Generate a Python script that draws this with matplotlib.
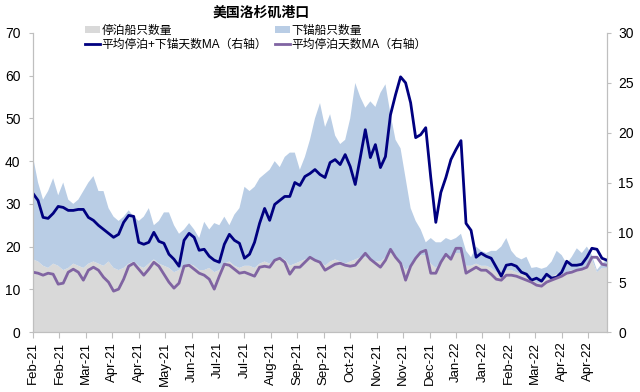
import matplotlib
matplotlib.use("Agg")
import matplotlib.pyplot as plt
import matplotlib.dates as mdates
from matplotlib.patches import Patch
from matplotlib.lines import Line2D
import pandas as pd

plt.rcParams['font.family'] = ['Liberation Sans', 'Noto Sans CJK SC', 'DejaVu Sans']

title = "美国洛杉矶港口"
label_berthed = "停泊船只数量"
label_anchored = "下锚船只数量"
label_total_ma = "平均停泊+下锚天数MA（右轴）"
label_berth_ma = "平均停泊天数MA（右轴）"

start_date = "2021-02-05"
n_points = 115
step_days = 4

# berthed ship count (left axis)
berthed = [17, 16.5, 15.5, 15, 16, 15.5, 14.5, 15, 16, 15.5,
           15, 16, 16.5, 16, 15.5, 16.5, 15, 14.5, 15, 16,
           16.5, 15.5, 15, 16, 17, 16, 15.5, 15, 14, 14.5,
           15.5, 16, 15.5, 14.5, 14.5, 15, 14, 14.5, 16, 16.5,
           15.5, 15, 15.5, 15.5, 15, 16, 16.5, 16, 17, 17.5,
           17, 15.5, 16, 16.5, 17, 17.5, 17, 16.5, 15.5, 16.5,
           17, 16.5, 16, 16.5, 17, 17.5, 17.5, 17, 16.5, 16.5,
           17.5, 18.5, 17.5, 16.5, 14.5, 15.5, 17, 18, 18, 16,
           15, 16.5, 17.5, 17, 18.5, 18.5, 15.5, 15.5, 16, 15.5,
           15.5, 15, 14, 13.5, 14.5, 14.5, 14, 13.5, 13.5, 12.5,
           11.5, 11.5, 12.5, 13, 13.5, 13.5, 14, 14.5, 14.5, 15,
           15.5, 17, 14, 15, 15]

# anchored ship count (left axis, stacked on berthed)
anchored = [24, 18.5, 15.5, 18, 20, 16.5, 20.5, 16, 14, 15.5,
            18, 19, 20, 17, 17.5, 12.5, 12, 11.5, 12, 12.5,
            10.5, 10.5, 12, 13, 8, 10, 12.5, 13, 11, 8.5,
            8.5, 9.5, 8.5, 7.5, 11.3, 9, 11.5, 10.5, 11, 8.5,
            12, 14, 18.5, 17.5, 19, 20, 20.5, 22, 23, 21.1,
            24, 26.5, 26, 21.5, 24, 27.5, 33, 37.1, 32.5, 34.5,
            29, 27.5, 29, 33.5, 41.3, 37.5, 35, 37, 36.2, 39.5,
            40.5, 32.5, 27.5, 26.5, 21.5, 13.5, 9, 6, 3, 6,
            6, 4.5, 4.5, 4.5, 3.5, 4.5, 3.5, 2, 4, 3.5,
            3, 4, 5, 6.5, 7.5, 4.5, 3.6, 3.5, 4.1, 2.5,
            3.7, 3.3, 2.7, 3.5, 5.5, 4.5, 2, 3.1, 5.1, 3.5,
            4.5, 1.0, 0.5, 1, 2]

# average berth + anchor days, moving average (right axis)
total_days_ma = [13.9, 13.2, 11.5, 11.4, 11.9, 12.6, 12.5, 12.2, 12.2, 12.3,
                 12.3, 11.5, 11.2, 10.7, 10.3, 9.9, 9.5, 9.8, 11.0, 11.7,
                 11.6, 9.0, 8.8, 9.0, 10.0, 9.1, 8.9, 7.8, 7.3, 6.6,
                 9.2, 9.9, 9.5, 8.2, 8.3, 7.6, 7.2, 7.0, 8.8, 9.8,
                 9.2, 8.9, 7.4, 7.8, 9.0, 10.9, 12.4, 11.2, 12.8, 13.2,
                 13.6, 13.6, 15.0, 14.7, 15.6, 15.9, 16.3, 15.8, 15.5, 17.0,
                 17.3, 16.8, 17.8, 16.6, 14.8, 17.5, 20.3, 17.5, 18.8, 16.5,
                 17.6, 21.8, 23.8, 25.6, 25.0, 23.0, 19.5, 19.8, 20.5, 15.5,
                 11.0, 14.0, 15.5, 17.3, 18.3, 19.2, 10.9, 10.2, 7.5, 7.9,
                 7.6, 7.4, 6.5, 5.6, 6.7, 6.8, 6.6, 6.0, 5.8, 5.2,
                 5.4, 5.1, 5.8, 5.4, 5.5, 6.0, 7.1, 6.7, 6.7, 6.8,
                 7.5, 8.4, 8.3, 7.4, 7.2]

# average berth days, moving average (right axis)
berth_days_ma = [6.0, 5.9, 5.7, 5.9, 5.8, 4.8, 4.9, 6.0, 6.3, 6.0,
                 5.2, 6.2, 6.5, 6.2, 5.5, 5.0, 4.1, 4.3, 5.3, 6.6,
                 6.9, 6.3, 5.7, 6.3, 7.0, 6.6, 5.8, 5.0, 4.4, 4.9,
                 6.6, 6.7, 6.3, 5.9, 5.7, 5.3, 4.3, 5.6, 6.8, 6.7,
                 6.3, 5.9, 6.0, 5.8, 5.6, 6.5, 6.6, 6.5, 7.2, 7.4,
                 7.0, 5.8, 6.5, 6.5, 7.0, 7.5, 7.2, 7.0, 6.2, 6.5,
                 6.8, 6.9, 6.7, 6.6, 6.7, 7.3, 7.9, 7.3, 6.9, 6.5,
                 7.2, 8.3, 7.5, 6.9, 5.2, 6.6, 7.4, 8.0, 8.2, 5.9,
                 5.9, 7.0, 7.8, 7.3, 8.4, 8.4, 5.9, 6.2, 6.5, 6.2,
                 6.2, 5.8, 5.3, 5.2, 5.7, 5.7, 5.6, 5.4, 5.2, 5.0,
                 4.7, 4.6, 5.0, 5.2, 5.4, 5.6, 5.9, 6.0, 6.2, 6.3,
                 6.5, 7.5, 7.5, 6.8, 6.7]

dates = pd.date_range(start_date, periods=n_points, freq=f"{step_days}D")

fig = plt.figure(figsize=(6.4, 3.92), dpi=100)
ax = fig.add_axes([33/640, 1-332/392, (607-33)/640, (332-33)/392])
ax2 = ax.twinx()

ax.stackplot(dates, berthed, anchored, colors=['#d9d9d9', '#b9cde5'], linewidth=0)
ax2.plot(dates, total_days_ma, color='#000080', lw=2.0)
ax2.plot(dates, berth_days_ma, color='#8064a2', lw=2.0)

ax.set_ylim(0, 70)
ax.set_yticks(range(0, 71, 10))
ax2.set_ylim(0, 30)
ax2.set_yticks(range(0, 31, 5))

x0 = pd.Timestamp(start_date)
x1 = x0 + pd.Timedelta(days=456)
ax.set_xlim(x0, x1)
ticks = pd.date_range(start_date, periods=22, freq="21D")
ax.set_xticks(ticks)
ax.xaxis.set_major_formatter(mdates.DateFormatter('%b-%y'))
for lab in ax.get_xticklabels():
    lab.set_rotation(90)

spine_color = '#bfbfbf'
for a in (ax, ax2):
    a.spines['top'].set_visible(False)
    for s in ('left', 'right', 'bottom'):
        a.spines[s].set_color(spine_color)
        a.spines[s].set_linewidth(0.8)
ax.tick_params(axis='y', labelsize=10, colors='black', color=spine_color, length=3, pad=6)
ax2.tick_params(axis='y', labelsize=10, colors='black', color=spine_color, length=3, pad=5)
ax.tick_params(axis='x', labelsize=9.5, colors='black', color=spine_color, length=4, pad=3)
ax.set_zorder(0)
ax2.set_zorder(1)

fig.text(261/640, 1-13/392, title, ha='center', va='center', fontsize=10,
         fontweight='bold', family=['Noto Sans CJK SC'])

handles = [Patch(facecolor='#d9d9d9', edgecolor='none'),
           Line2D([], [], color='#000080', lw=2.0),
           Patch(facecolor='#b9cde5', edgecolor='none'),
           Line2D([], [], color='#8064a2', lw=2.0)]
labels = [label_berthed, label_total_ma, label_anchored, label_berth_ma]
fig.legend(handles, labels, loc='upper left', bbox_to_anchor=(80/640, 1-20/392),
           ncol=2, frameon=False, fontsize=8.5, handlelength=1.3, handleheight=0.55,
           handletextpad=0.15, columnspacing=0.6, labelspacing=0.2, borderaxespad=0)

fig.savefig("out.png", dpi=100)
